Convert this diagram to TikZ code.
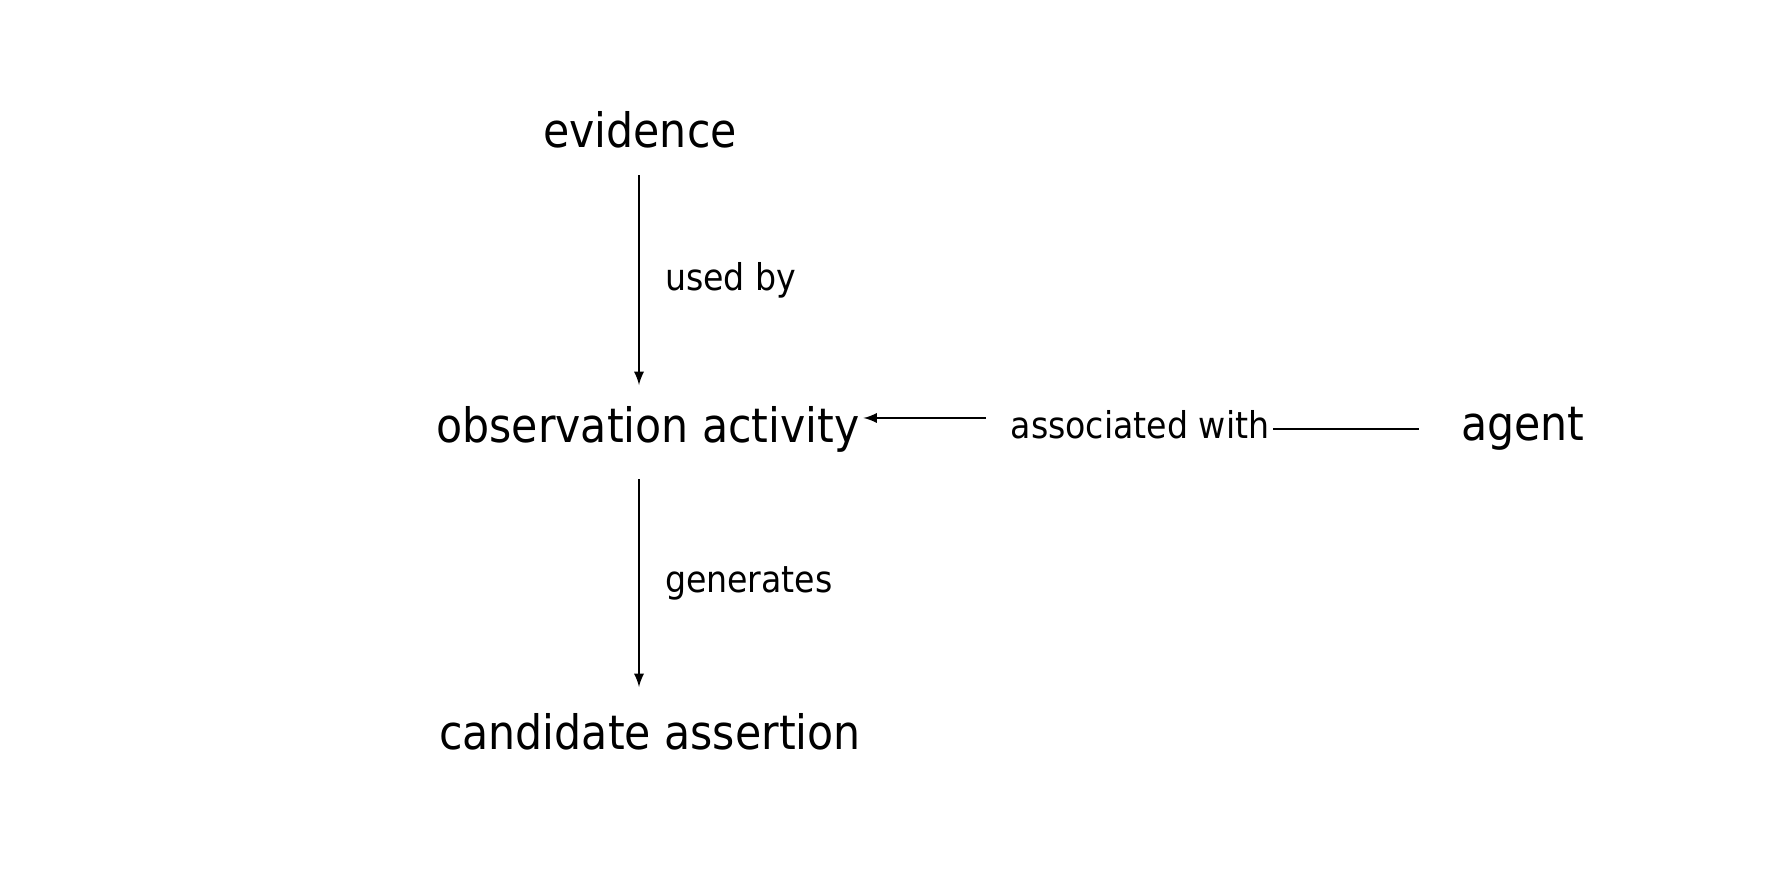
\documentclass[tikz,border=0pt]{standalone}
\usepackage{fontspec}
\setmainfont{DejaVu Sans Condensed}
\usetikzlibrary{positioning}

\begin{document}
\begin{tikzpicture}[
    x=0.02cm, y=-0.02cm,
    concept/.style={font=\fontsize{27}{30}\selectfont, inner sep=2pt},
    rel/.style={font=\fontsize{21}{24}\selectfont, inner sep=2pt},
    arrow/.style={->, >=latex, line width=1.6pt}
]
\useasboundingbox (0,0) rectangle (1774,887);

% Concepts
\node[concept] (evidence) at (640,130) {evidence};
\node[concept] (obs) at (648,429) {observation activity};
\node[concept] (cand) at (650,732) {candidate assertion};
\node[concept] (agent) at (1523,429) {agent};

% Relation label
\node[rel] (assoc) at (1140,425) {associated with};

% Arrows
\draw[arrow] (639,175) -- (639,385) node[rel, midway, right=12pt] {used by};
\draw[arrow] (639,479) -- (639,687) node[rel, midway, right=12pt] {generates};
\draw[arrow] (assoc.west) ++(-12pt,4pt) coordinate (aw) -- (obs.east |- aw) ;
\draw[line width=1.6pt] (agent.west) ++(-22pt,0) coordinate (ag) -- (assoc.east |- ag);

\end{tikzpicture}
\end{document}
